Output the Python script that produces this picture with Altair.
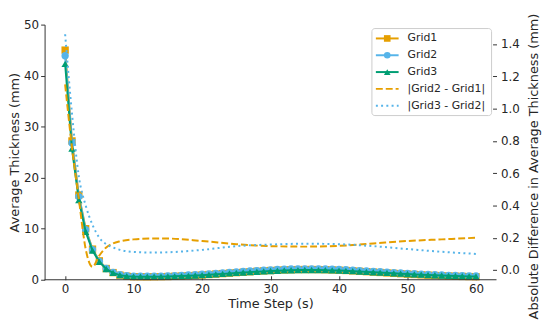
import altair as alt
import pandas as pd

# ---------------- data ----------------
time_steps = list(range(0, 61))

grid1 = [45.0, 27.2, 16.6, 10.0, 6.0, 3.7, 2.2, 1.4, 0.9, 0.7, 0.6,
         0.58, 0.57, 0.58, 0.6, 0.63, 0.67, 0.72, 0.78, 0.85, 0.93,
         1.02, 1.11, 1.2, 1.3, 1.39, 1.48, 1.57, 1.65, 1.73, 1.8,
         1.86, 1.92, 1.96, 1.99, 2.0, 2.0, 1.99, 1.96, 1.92, 1.87,
         1.81, 1.74, 1.66, 1.58, 1.5, 1.42, 1.34, 1.26, 1.18, 1.1,
         1.03, 0.96, 0.9, 0.84, 0.78, 0.73, 0.69, 0.65, 0.62, 0.6]

grid2 = [43.9, 26.8, 16.3, 9.8, 5.9, 3.6, 2.2, 1.45, 1.0, 0.8, 0.72,
         0.7, 0.69, 0.7, 0.72, 0.76, 0.8, 0.86, 0.92, 0.99, 1.07,
         1.16, 1.25, 1.34, 1.44, 1.53, 1.62, 1.71, 1.79, 1.87, 1.94,
         2.0, 2.06, 2.1, 2.13, 2.14, 2.14, 2.13, 2.1, 2.06, 2.01,
         1.95, 1.88, 1.8, 1.72, 1.64, 1.56, 1.48, 1.4, 1.32, 1.24,
         1.17, 1.1, 1.04, 0.98, 0.92, 0.87, 0.83, 0.79, 0.76, 0.74]

grid3 = [42.3, 25.7, 15.6, 9.4, 5.7, 3.5, 2.1, 1.35, 0.9, 0.7, 0.62,
         0.6, 0.59, 0.6, 0.61, 0.64, 0.67, 0.72, 0.77, 0.83, 0.9,
         0.98, 1.06, 1.15, 1.24, 1.33, 1.41, 1.49, 1.57, 1.64, 1.71,
         1.77, 1.82, 1.86, 1.89, 1.9, 1.9, 1.89, 1.87, 1.83, 1.79,
         1.74, 1.68, 1.61, 1.54, 1.47, 1.4, 1.33, 1.26, 1.19, 1.12,
         1.05, 0.99, 0.93, 0.87, 0.82, 0.77, 0.73, 0.69, 0.66, 0.64]

diff_times = [0, 1, 2, 3, 4, 5, 6, 7, 8, 10, 13, 15, 20, 25, 30, 35,
              40, 45, 50, 55, 60]
diff21 = [1.15, 0.76, 0.44, 0.13, 0.02, 0.09, 0.14, 0.165, 0.178, 0.19,
          0.195, 0.195, 0.18, 0.16, 0.148, 0.145, 0.15, 0.165, 0.18,
          0.19, 0.2]
diff32 = [1.46, 0.97, 0.58, 0.4, 0.28, 0.2, 0.16, 0.14, 0.125, 0.112,
          0.108, 0.11, 0.125, 0.148, 0.158, 0.163, 0.16, 0.148, 0.13,
          0.113, 0.1]

series_names = ["Grid1", "Grid2", "Grid3"]
series_colors = ["#E69F00", "#56B4E9", "#009E73"]
series_shapes = ["square", "circle", "triangle-up"]
diff_names = ["|Grid2 - Grid1|", "|Grid3 - Grid2|"]
diff_colors = ["#E69F00", "#56B4E9"]
diff_dashes = [[7, 3], [2, 3.3]]

x_ticks = [0, 10, 20, 30, 40, 50, 60]
left_ticks = [0, 10, 20, 30, 40, 50]
right_ticks = [0.0, 0.2, 0.4, 0.6, 0.8, 1.0, 1.2, 1.4]

FONT = "DejaVu Sans"
TXT = "#262626"
AX = "#333333"

W, H = 457, 258

x_enc = alt.X("t:Q", scale=alt.Scale(domain=[-3, 63], nice=False, zero=False),
              axis=alt.Axis(values=x_ticks, title="Time Step (s)", grid=False,
                            domain=False, offset=-4, tickSize=4, tickColor=AX,
                            labelPadding=4, titlePadding=3))

y_left = alt.Y("v:Q", scale=alt.Scale(domain=[0, 50], nice=False),
               axis=alt.Axis(values=left_ticks, title="Average Thickness (mm)",
                             grid=False, domainColor=AX, tickColor=AX, tickSize=4,
                             labelPadding=2, titleAngle=270, titleAlign="center",
                             titleBaseline="middle", titleX=-30, titleY=H / 2))

grid_layers = []
for name, vals, col, shp in zip(series_names, [grid1, grid2, grid3],
                                series_colors, series_shapes):
    df = pd.DataFrame({"t": time_steps, "v": vals})
    base = alt.Chart(df)
    grid_layers.append(base.mark_line(color=col, strokeWidth=2).encode(x=x_enc, y=y_left))
    grid_layers.append(base.mark_point(shape=shp, filled=True, size=55, color=col,
                                       opacity=1).encode(x=x_enc, y=y_left))

# bottom spine along y = 0
spine = alt.Chart(pd.DataFrame({"a": [0]})).mark_rule(color=AX, strokeWidth=1.2).encode(
    x=alt.datum(-3), x2=alt.datum(63), y=alt.datum(0))
grid_layers.append(spine)
left = alt.layer(*grid_layers)

y_right = alt.Y("d:Q", scale=alt.Scale(domain=[-0.06, 1.52], nice=False, zero=False),
                axis=alt.Axis(orient="right", values=right_ticks, format=".1f",
                              title="Absolute Difference in Average Thickness (mm)",
                              grid=False, domain=False, offset=-4, tickSize=4,
                              tickColor=AX, labelPadding=4, titleAngle=270,
                              titleAlign="center", titleBaseline="middle",
                              titleX=41, titleY=143))
diff_layers = []
for name, vals, col, dash in zip(diff_names, [diff21, diff32], diff_colors, diff_dashes):
    df = pd.DataFrame({"t": diff_times, "d": vals})
    diff_layers.append(alt.Chart(df).mark_line(color=col, strokeWidth=2, strokeDash=dash,
                                               interpolate="monotone").encode(x=x_enc, y=y_right))
right = alt.layer(*diff_layers)

# ---------------- legend (drawn manually, top right of plot) ----------------
leg_labels = series_names + diff_names
leg_colors = series_colors + diff_colors
leg_dashes = [None, None, None] + diff_dashes
leg_shapes = series_shapes + [None, None]
row_y = [14, 31, 48, 65, 82]
one = pd.DataFrame({"a": [0]})
legend_layers = [alt.Chart(one).mark_rect(fill="white", fillOpacity=0.85, stroke="#cccccc",
                                          strokeWidth=1, cornerRadius=3).encode(
    x=alt.value(331), x2=alt.value(452), y=alt.value(4), y2=alt.value(92))]
for lab, col, dash, shp, yy in zip(leg_labels, leg_colors, leg_dashes, leg_shapes, row_y):
    kw = {"strokeDash": dash} if dash else {}
    legend_layers.append(alt.Chart(one).mark_rule(color=col, strokeWidth=2, **kw).encode(
        x=alt.value(335), x2=alt.value(358), y=alt.value(yy)))
    if shp:
        legend_layers.append(alt.Chart(one).mark_point(shape=shp, filled=True, size=45,
                                                       color=col, opacity=1).encode(
            x=alt.value(346.5), y=alt.value(yy)))
    legend_layers.append(alt.Chart(pd.DataFrame({"label": [lab]})).mark_text(
        align="left", baseline="middle", fontSize=11, font=FONT, color=TXT).encode(
        x=alt.value(367), y=alt.value(yy), text="label:N"))

chart = alt.layer(left, right, *legend_layers).resolve_scale(y="independent").properties(
    width=W, height=H,
    background="white",
    autosize=alt.AutoSizeParams(type="none"),
    padding={"left": 37, "top": 15, "right": 46, "bottom": 45},
).configure_view(stroke=None).configure_axis(
    labelFont=FONT, titleFont=FONT, labelFontSize=12, titleFontSize=13,
    labelColor=TXT, titleColor=TXT, titleFontWeight="normal"
)

chart.save("out.html", embed_options={"renderer": "svg", "actions": False})
